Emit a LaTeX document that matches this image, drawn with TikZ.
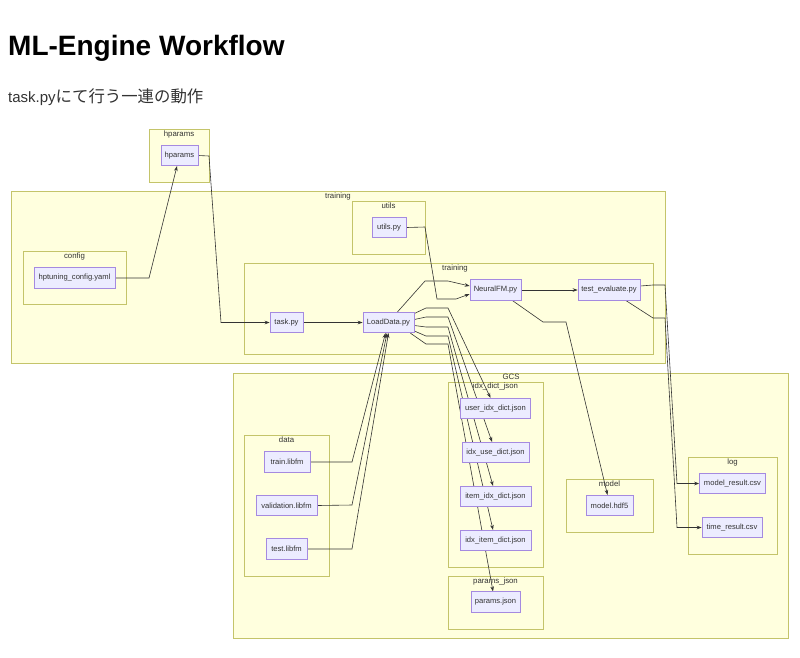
\documentclass[tikz,border=0pt]{standalone}
\usepackage{fontspec}
\setmainfont{Liberation Sans}
\newfontfamily\cjk{Noto Sans CJK JP}
\usetikzlibrary{arrows.meta}
\definecolor{clfill}{HTML}{FFFFDE}
\definecolor{cldraw}{HTML}{C4C46A}
\definecolor{ndfill}{HTML}{ECECFF}
\definecolor{nddraw}{HTML}{A58AE0}
\definecolor{txt}{HTML}{333333}
\pgfdeclarelayer{clusterlayer}
\pgfdeclarelayer{edgelayer}
\pgfsetlayers{clusterlayer,edgelayer,main}
\tikzset{
  cluster/.style={fill=clfill, draw=cldraw, line width=0.7pt},
  cltitle/.style={font=\fontsize{7.8}{9}\selectfont, text=txt, inner sep=0pt, anchor=north},
  nodebox/.style={fill=ndfill, draw=nddraw, line width=0.7pt, font=\fontsize{7.6}{9}\selectfont, text=txt, minimum height=20.5pt, inner sep=0pt},
  edge/.style={draw=txt, line width=0.6pt, -{Stealth[length=5pt,width=3.6pt]}},
}
\begin{document}
\begin{tikzpicture}[x=1pt,y=-1pt]
\begin{pgfonlayer}{clusterlayer}
\useasboundingbox[fill=white] (0,0) rectangle (800,657);
% clusters
\draw[cluster] (149,129) rectangle (209,182);
\node[cltitle] (lhparams) at (179,130.5) {hparams};
\draw[cluster] (11,191) rectangle (665,363);
\node[cltitle] (ltraining) at (338,192.5) {training};
\draw[cluster] (352,201) rectangle (425,254);
\node[cltitle] (lutils) at (388.5,202.5) {utils};
\draw[cluster] (23,251) rectangle (126,304);
\node[cltitle] (lconfig) at (74.5,252.5) {config};
\draw[cluster] (244,263) rectangle (653,354);
\node[cltitle] (ltraining2) at (455,264.5) {training};
\draw[cluster] (233,373) rectangle (788,638);
\node[cltitle] (lgcs) at (511,374) {GCS};
\draw[cluster] (448,382) rectangle (543,567);
\node[cltitle] (lidx) at (495.5,383) {idx\_dict\_json};
\draw[cluster] (448,576) rectangle (543,629);
\node[cltitle] (lparams) at (495.5,577.5) {params\_json};
\draw[cluster] (244,435) rectangle (329,576);
\node[cltitle] (ldata) at (286.5,436.5) {data};
\draw[cluster] (566,479) rectangle (653,532);
\node[cltitle] (lmodel) at (609.5,480.5) {model};
\draw[cluster] (688,457) rectangle (777,554);
\node[cltitle] (llog) at (732.5,458.5) {log};
\end{pgfonlayer}

% titles
\node[anchor=base west, inner sep=0pt, font=\fontsize{28}{32}\selectfont\bfseries] (title) at (8,55) {ML-Engine Workflow};
\node[anchor=base west, inner sep=0pt, font=\fontsize{15}{18}\selectfont, text=txt] (subtitle) at (8,102) {task.py{\cjk\fontsize{16.4}{18}\selectfont にて行う一連の動作}};

% nodes
\node[nodebox, minimum width=37pt] (hparams) at (179.5,155.5) {hparams};
\node[nodebox, minimum width=34pt] (utils) at (389,227.5) {utils.py};
\node[nodebox, minimum width=81pt] (hptuning) at (74.5,278) {hptuning\_config.yaml};
\node[nodebox, minimum width=33pt] (task) at (286.5,322.5) {task.py};
\node[nodebox, minimum width=51pt] (loaddata) at (388.5,322.5) {LoadData.py};
\node[nodebox, minimum width=51pt] (neuralfm) at (495.5,290) {NeuralFM.py};
\node[nodebox, minimum width=62pt] (testeval) at (609,290) {test\_evaluate.py};
\node[nodebox, minimum width=70pt] (useridx) at (495.5,408.5) {user\_idx\_dict.json};
\node[nodebox, minimum width=67pt] (idxuse) at (495.5,452.5) {idx\_use\_dict.json};
\node[nodebox, minimum width=71pt] (itemidx) at (495.5,496.5) {item\_idx\_dict.json};
\node[nodebox, minimum width=71pt] (idxitem) at (495.5,540.5) {idx\_item\_dict.json};
\node[nodebox, minimum width=49pt] (params) at (495.5,602) {params.json};
\node[nodebox, minimum width=46pt] (train) at (287,462) {train.libfm};
\node[nodebox, minimum width=61pt] (valid) at (286.5,505.5) {validation.libfm};
\node[nodebox, minimum width=41pt] (test) at (286.5,549) {test.libfm};
\node[nodebox, minimum width=47pt] (model) at (609.5,505.5) {model.hdf5};
\node[nodebox, minimum width=66pt] (modelres) at (732.5,483.5) {model\_result.csv};
\node[nodebox, minimum width=60pt] (timeres) at (732,527.5) {time\_result.csv};

% edges
\begin{pgfonlayer}{edgelayer}
\draw[edge] (hptuning.east) -- (149,278) -- ([xshift=-2.5pt]hparams.south);
\draw[edge] (hparams.east) -- (209,156) -- (221,322.5) -- (task.west);
\draw[edge] (task.east) -- (loaddata.west);
\draw[edge] ([xshift=9pt]loaddata.north) -- (425,281) -- (448,281) -- ([yshift=4pt]neuralfm.west);
\draw[edge] (utils.east) -- (425,227) -- (437,299) -- (456,299) -- ([yshift=-4pt]neuralfm.west);
\draw[edge] (neuralfm.east) -- (testeval.west);
\draw[edge] ([xshift=17pt]neuralfm.south) -- (543,322) -- (566,322) -- ([xshift=-2pt]model.north);
\draw[edge] ([yshift=4pt]testeval.east) -- (653,285) -- (665,285) -- (677,483.5) -- (modelres.west);
\draw[edge] ([xshift=17pt]testeval.south) -- (653,318) -- (665,318) -- (677,527.5) -- (timeres.west);
\draw[edge] ([yshift=9pt]loaddata.east) -- (426,308) -- (448,308) -- ([xshift=-5pt]useridx.north);
\draw[edge] ([yshift=3pt]loaddata.east) -- (426,317) -- (448,317) -- ([xshift=-3.5pt]idxuse.north);
\draw[edge] ([yshift=-3pt]loaddata.east) -- (426,327) -- (448,327) -- ([xshift=-2.5pt]itemidx.north);
\draw[edge] ([yshift=-8.5pt]loaddata.east) -- (426,336) -- (448,336) -- ([xshift=-2.5pt]idxitem.north);
\draw[edge] ([xshift=-4pt]loaddata.south east) -- (426,344) -- (448,344) -- ([xshift=-2.5pt]params.north);
\draw[edge] (train.east) -- (352,462) -- ([xshift=-3pt]loaddata.south);
\draw[edge] (valid.east) -- (352,505) -- ([xshift=-1.5pt]loaddata.south);
\draw[edge] (test.east) -- (352,549) -- (loaddata.south);
\end{pgfonlayer}
\end{tikzpicture}
\end{document}
